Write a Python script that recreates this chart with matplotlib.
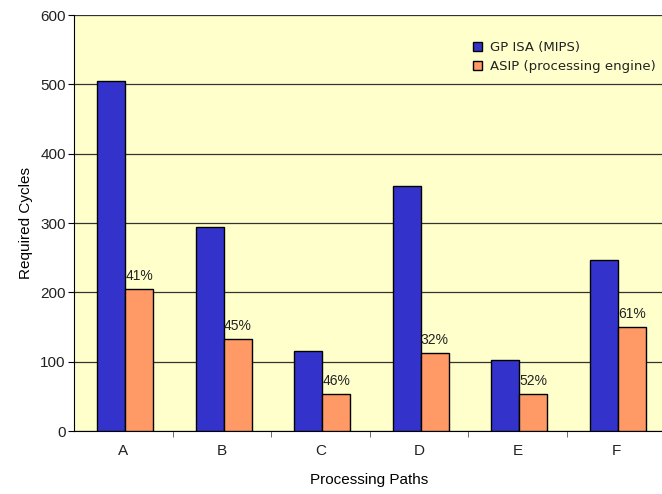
import numpy as np
import matplotlib
matplotlib.use("Agg")
import matplotlib.pyplot as plt

paths = ["A", "B", "C", "D", "E", "F"]
gp_isa = [505, 294, 115, 353, 102, 247]
asip = [205, 133, 53, 112, 53, 150]
ratio_labels = ["41%", "45%", "46%", "32%", "52%", "61%"]

plt.rcParams["font.family"] = ["Liberation Sans", "DejaVu Sans"]
plt.rcParams["text.color"] = "#222222"
plt.rcParams["xtick.labelcolor"] = "#222222"
plt.rcParams["ytick.labelcolor"] = "#222222"

fig = plt.figure(figsize=(6.62, 4.94), dpi=100)
ax = fig.add_axes([0.1118, 0.1275, 0.8930, 0.8421])
ax.set_facecolor("#FFFFCC")

x = np.arange(len(paths))
w = 0.285
ax.bar(x - w / 2 + 0.02, gp_isa, w, color="#3333CC", edgecolor="black", linewidth=1.0,
       label="GP ISA (MIPS)", zorder=3)
ax.bar(x + w / 2 + 0.02, asip, w, color="#FF9966", edgecolor="black", linewidth=1.0,
       label="ASIP (processing engine)", zorder=3)

for xi, v, t in zip(x, asip, ratio_labels):
    ax.text(xi + w / 2 + 0.02, v + 9, t, ha="center", va="bottom", fontsize=10,
            zorder=4)

ax.set_xlim(-0.5, len(paths) - 0.5)
ax.set_ylim(0, 600)
ax.set_yticks(np.arange(0, 601, 100))
ax.yaxis.grid(True, color="#333333", linewidth=0.9, zorder=0)
ax.set_axisbelow(True)

ax.set_xticks(x)
ax.set_xticklabels(paths, fontsize=11)
ax.tick_params(axis="x", length=0, pad=9)
ax.set_xticks(np.arange(0.5, len(paths) - 0.5, 1), minor=True)
ax.tick_params(axis="x", which="minor", length=4, direction="out", color="#555555")
ax.tick_params(axis="y", labelsize=11, length=4, direction="out", pad=2)

for s in ["top", "right"]:
    ax.spines[s].set_visible(False)
ax.spines["left"].set_color("black")
ax.spines["bottom"].set_color("black")

ax.set_xlabel("Processing Paths", fontsize=11, labelpad=11)
ax.set_ylabel("Required Cycles", fontsize=11, labelpad=5)

leg = ax.legend(loc="upper left", bbox_to_anchor=(0.655, 0.965), frameon=False,
                prop={"family": "DejaVu Sans", "size": 9.5}, handlelength=0.65,
                handleheight=0.65, handletextpad=0.6, labelspacing=0.45)

fig.savefig("out.png", dpi=100, facecolor="white")
